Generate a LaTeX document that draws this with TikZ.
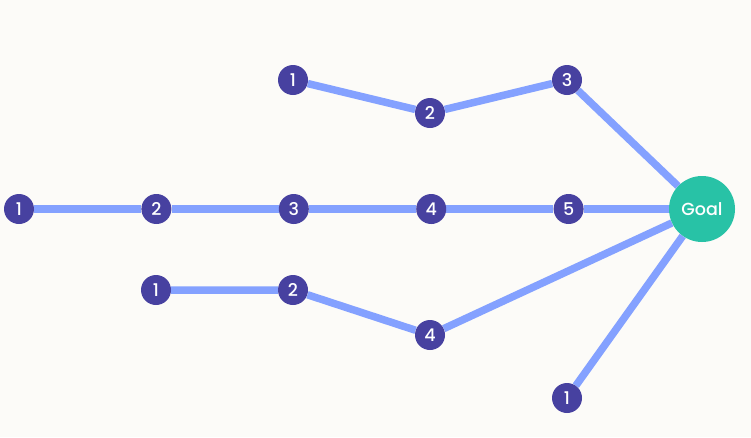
\documentclass[tikz,border=0pt]{standalone}
\usepackage{xcolor}
\usepackage{tikz}
\usepackage{fontspec}
\setmainfont{Poppins}[UprightFont=* Medium]
\usetikzlibrary{positioning,backgrounds}
\definecolor{stepdark}{HTML}{4741A0}
\definecolor{steplink}{HTML}{84A1FF}
\definecolor{goalteal}{HTML}{28C2A6}
\definecolor{paper}{HTML}{FCFBF8}
\tikzstyle{stepnode} = [circle, fill=stepdark, text=white, minimum size=30pt,
    inner sep=0pt, font=\fontsize{17.5}{17.5}\selectfont]
\tikzstyle{goalnode} = [circle, fill=goalteal, text=white, minimum size=66pt,
    inner sep=0pt, font=\fontsize{17.5}{17.5}\selectfont]
\tikzstyle{link} = [draw=steplink, line width=7.5pt]

\begin{document}
\begin{tikzpicture}[x=1pt, y=-1pt, node distance=107pt]
\useasboundingbox (0,0) rectangle (751,437);
% main row
\node[stepnode] (m1) at (19,209) {1};
\node[stepnode, right=of m1] (m2) {2};
\node[stepnode, right=of m2] (m3) {3};
\node[stepnode, right=of m3] (m4) {4};
\node[stepnode, right=of m4] (m5) {5};
\node[goalnode] (goal) at (702,209) {Goal};
% upper branch
\node[stepnode] (t1) at (293,80) {1};
\node[stepnode] (t2) at (430,113) {2};
\node[stepnode] (t3) at (567,80) {3};
% lower branch
\node[stepnode] (b1) at (156,290) {1};
\node[stepnode] (b2) at (293,290) {2};
\node[stepnode] (b4) at (430,335) {4};
\node[stepnode] (l1) at (567,398) {1};
\begin{scope}[on background layer]
\fill[paper] (0,0) rectangle (751,437);
\draw[link] (m1) -- (m2) -- (m3) -- (m4) -- (m5) -- (goal);
\draw[link] (t1) -- (t2) -- (t3) -- (goal);
\draw[link] (b1) -- (b2) -- (b4) -- (goal);
\draw[link] (l1) -- (goal);
\end{scope}
\end{tikzpicture}
\end{document}
